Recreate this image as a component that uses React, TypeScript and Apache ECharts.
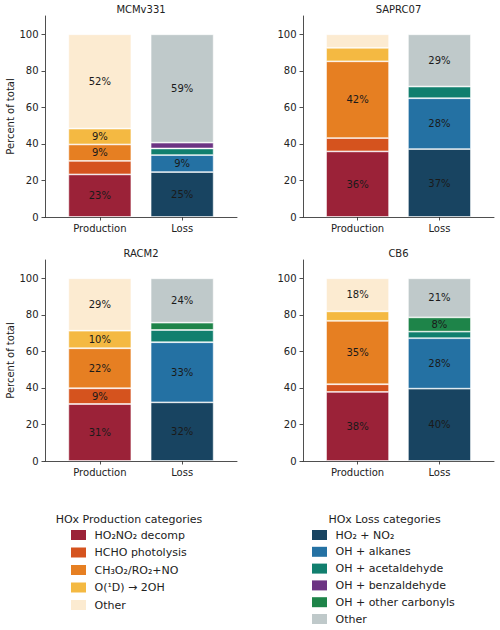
import React, { useEffect, useRef } from "react";
import * as echarts from "echarts";

// Panel titles (chemical mechanisms) and the two bars drawn in each panel
const mechanisms = ["MCMv331", "SAPRC07", "RACM2", "CB6"];
const barCategories = ["Production", "Loss"];
const yTickValues = [0, 20, 40, 60, 80, 100];

// HOx production categories
const productionNames = ["HO₂NO₂ decomp", "HCHO photolysis", "CH₃O₂/RO₂+NO", "O(¹D) → 2OH", "Other"];
const productionColors = ["#9B2238", "#D5531E", "#E67F22", "#F4B942", "#FCEBD1"];

// HOx loss categories
const lossNames = ["HO₂ + NO₂", "OH + alkanes", "OH + acetaldehyde", "OH + benzaldehyde", "OH + other carbonyls", "Other"];
const lossColors = ["#184461", "#2471A3", "#117F6E", "#6C3483", "#1E8449", "#BFC9CA"];

// Percent of total, in the order of productionNames
const mcmProduction = [23.3, 7.4, 9.0, 8.7, 51.6];
const saprcProduction = [35.9, 7.3, 42.0, 7.4, 7.4];
const racmProduction = [31.2, 8.6, 21.9, 9.6, 28.7];
const cb6Production = [37.8, 4.2, 34.7, 5.2, 18.1];

// Percent of total, in the order of lossNames
const mcmLoss = [24.6, 9.3, 3.6, 3.2, 0, 59.3];
const saprcLoss = [37.2, 27.8, 6.4, 0, 0, 28.6];
const racmLoss = [32.1, 32.9, 6.7, 0, 4.0, 24.3];
const cb6Loss = [39.6, 27.6, 3.6, 0, 7.8, 21.4];

const productionByPanel = [mcmProduction, saprcProduction, racmProduction, cb6Production];
const lossByPanel = [mcmLoss, saprcLoss, racmLoss, cb6Loss];

// Segments smaller than this are left unlabelled
const LABEL_MIN = 7.5;

const FONT = "DejaVu Sans";
const INK = "#222222";

const grids = [
  { left: 45, top: 16, width: 192, height: 201 },
  { left: 303, top: 16, width: 191, height: 201 },
  { left: 45, top: 260, width: 192, height: 201 },
  { left: 303, top: 260, width: 191, height: 201 },
];

// The x axis is split into thirds so the two bars sit with a wide margin
// on either side: slot 2 holds Production, slot 5 holds Loss.
const SLOT_COUNT = 8;
const barSlots = [2, 5];
const slotLabels = Array.from({ length: SLOT_COUNT }, (_, i) => {
  const k = barSlots.indexOf(i);
  return k >= 0 ? barCategories[k] : "";
});
const slotData = (barIndex: number, v: number) =>
  Array.from({ length: SLOT_COUNT }, (_, i) => (i === barSlots[barIndex] && v > 0 ? v : "-"));

const prodKey = (n: string) => "P|" + n;
const lossKey = (n: string) => "L|" + n;

export default function App() {
  const ref = useRef<HTMLDivElement>(null);

  useEffect(() => {
    if (!ref.current) return;
    const chart = echarts.init(ref.current, undefined, { renderer: "svg" });

    const axisLineStyle = { color: INK, width: 0.8 };

    const xAxes = grids.map((_, gi) => ({
      type: "category",
      gridIndex: gi,
      data: slotLabels,
      boundaryGap: false,
      splitLine: { show: false },
      axisLine: { show: true, onZero: false, lineStyle: axisLineStyle },
      axisTick: {
        show: true,
        interval: (index: number) => barSlots.includes(index),
        length: 3.5,
        lineStyle: axisLineStyle,
      },
      axisLabel: {
        interval: 0,
        margin: 6,
        fontSize: 10,
        color: INK,
        fontFamily: FONT,
      },
    }));

    const yAxes = grids.map((_, gi) => ({
      type: "value",
      gridIndex: gi,
      min: 0,
      max: 110,
      interval: 20,
      name: gi % 2 === 0 ? "Percent of total" : "",
      nameLocation: "middle",
      nameGap: 30,
      nameTextStyle: { fontSize: 10, color: INK, fontFamily: FONT },
      splitLine: { show: false },
      axisLine: { show: true, onZero: false, lineStyle: axisLineStyle },
      axisTick: { show: true, customValues: yTickValues, length: 3.5, lineStyle: axisLineStyle },
      axisLabel: { customValues: yTickValues, margin: 6.5, fontSize: 10, color: INK, fontFamily: FONT },
    }));

    const segmentLabel = {
      show: true,
      position: "inside",
      fontSize: 10,
      color: "#1a1a1a",
      fontFamily: FONT,
      formatter: (p: any) => {
        const v = p.value;
        return typeof v === "number" && v >= LABEL_MIN ? `${Math.round(v)}%` : "";
      },
    };
    const edge = { borderColor: "rgba(255,255,255,0.7)", borderWidth: 0.8 };

    const series: any[] = [];
    grids.forEach((_, gi) => {
      productionNames.forEach((n, k) => {
        series.push({
          type: "bar",
          name: prodKey(n),
          xAxisIndex: gi,
          yAxisIndex: gi,
          stack: "panel" + gi,
          barWidth: 63,
          itemStyle: { color: productionColors[k], ...edge },
          label: segmentLabel,
          data: slotData(0, productionByPanel[gi][k]),
        });
      });
      lossNames.forEach((n, k) => {
        series.push({
          type: "bar",
          name: lossKey(n),
          xAxisIndex: gi,
          yAxisIndex: gi,
          stack: "panel" + gi,
          barWidth: 63,
          itemStyle: { color: lossColors[k], ...edge },
          label: segmentLabel,
          data: slotData(1, lossByPanel[gi][k]),
        });
      });
    });

    const legendBase = {
      orient: "vertical",
      top: 529.5,
      padding: 0,
      itemWidth: 15,
      itemHeight: 10,
      icon: "rect",
      selectedMode: false,
      itemStyle: { borderWidth: 0 },
      formatter: (name: string) => name.slice(2),
      textStyle: { fontSize: 11, color: INK, fontFamily: FONT, padding: [0, 0, 0, 3.5] },
    };

    const titles = grids.map((g, gi) => ({
      type: "text",
      x: g.left + g.width / 2,
      y: g.top - 6.5,
      style: { text: mechanisms[gi], fill: INK, font: `10px '${FONT}'`, textAlign: "center", textVerticalAlign: "middle" },
    }));

    chart.setOption({
      animation: false,
      backgroundColor: "#ffffff",
      textStyle: { fontFamily: FONT },
      grid: grids.map((g) => ({ ...g, containLabel: false })),
      xAxis: xAxes,
      yAxis: yAxes,
      series,
      legend: [
        { ...legendBase, left: 71, itemGap: 6.5, data: productionNames.map(prodKey) },
        { ...legendBase, left: 312, itemGap: 5.8, data: lossNames.map(lossKey) },
      ],
      graphic: [
        ...titles,
        {
          type: "text",
          x: 129,
          y: 519,
          style: { text: "HOx Production categories", fill: INK, font: `11px '${FONT}'`, textAlign: "center", textVerticalAlign: "middle" },
        },
        {
          type: "text",
          x: 384.5,
          y: 519,
          style: { text: "HOx Loss categories", fill: INK, font: `11px '${FONT}'`, textAlign: "center", textVerticalAlign: "middle" },
        },
      ],
    });

    return () => chart.dispose();
  }, []);

  return <div ref={ref} style={{ position: "absolute", left: 0, top: 0, width: 500, height: 630 }} />;
}
